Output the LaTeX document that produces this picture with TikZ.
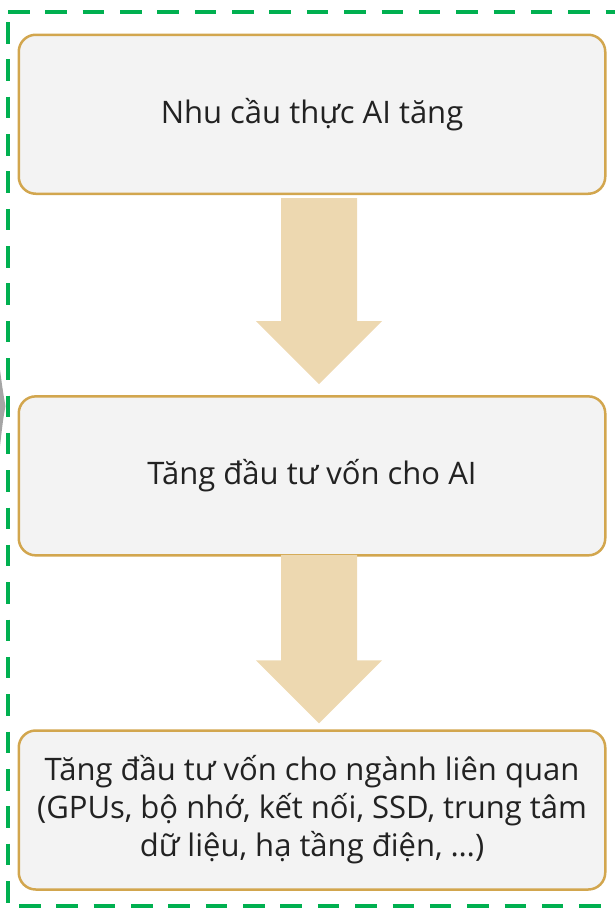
\documentclass[tikz,border=0pt]{standalone}
\usepackage{fontspec}
\setmainfont{Open Sans}
\usetikzlibrary{calc}

\definecolor{boxline}{RGB}{210,166,78}
\definecolor{boxfill}{RGB}{243,243,243}
\definecolor{arrowfill}{RGB}{237,216,176}
\definecolor{framegreen}{RGB}{0,176,80}
\definecolor{txt}{RGB}{34,34,34}
\definecolor{sidegrey}{RGB}{165,165,165}

\tikzset{
  stepbox/.style={draw=boxline, fill=boxfill, line width=2.5pt,
    rounded corners=17pt, minimum width=586.5pt, minimum height=159pt,
    inner sep=0pt, align=center, text=txt,
    font=\fontsize{31}{38}\selectfont},
  flowarrow/.style={fill=arrowfill},
  frameline/.style={draw=framegreen, line width=4pt, line cap=butt,
    dash pattern=on 21.5pt off 15.85pt},
}

\begin{document}
\begin{tikzpicture}[x=1pt,y=-1pt]
\useasboundingbox (0,0) rectangle (615,908);
\clip (0,0) rectangle (615,908);

% edge of a neighbouring shape
\fill[sidegrey] (0,370) .. controls (3,392) .. (5.5,406) .. controls (3,420) .. (0,446) -- cycle;

% outer dashed frame
\draw[frameline] (8,12) -- (640,12);
\draw[frameline] (8,22) -- (8,930);
\draw[frameline] (19,905.5) -- (640,905.5);

% process steps
\node[stepbox] (b1) at (312,114.25) {Nhu cầu thực AI tăng};
\node[stepbox] (b2) at (312,475.85) {Tăng đầu tư vốn cho AI};
\node[stepbox] (b3) at (312,810) {Tăng đầu tư vốn cho ngành liên quan\\(GPUs, bộ nhớ, kết nối, SSD, trung tâm\\dữ liệu, hạ tầng điện, …)};

% connecting block arrows: shaft 76 wide, head 126 wide and 63 long
\path (b1.south) ++(7,3) coordinate (a1top);
\path (b2.north) ++(7,-11) coordinate (a1tip);
\path (b2.south) ++(7,-1.7) coordinate (a2top);
\path (b3.north) ++(7,-6) coordinate (a2tip);
\foreach \t/\p in {a1top/a1tip, a2top/a2tip}
  \fill[flowarrow] ($(\t)+(-38,0)$) -- ($(\t)+(38,0)$) -- ($(\p)+(38,-63)$)
    -- ($(\p)+(63,-63)$) -- (\p) -- ($(\p)+(-63,-63)$) -- ($(\p)+(-38,-63)$) -- cycle;
\end{tikzpicture}
\end{document}
